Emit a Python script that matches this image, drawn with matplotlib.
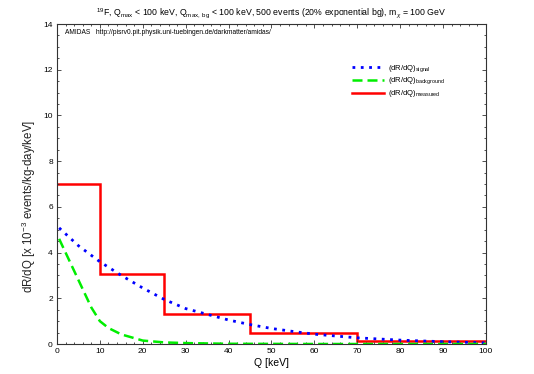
import matplotlib
matplotlib.use("Agg")
import matplotlib.pyplot as plt
from matplotlib.ticker import MultipleLocator

plt.rcParams['font.family'] = ['Liberation Sans', 'DejaVu Sans']
plt.rcParams['mathtext.fontset'] = 'custom'
plt.rcParams['mathtext.rm'] = 'Liberation Sans'
plt.rcParams['mathtext.it'] = 'Liberation Sans:italic'

# measured spectrum (bin edges and heights)
bin_edges = [0, 10, 25, 45, 70, 100]
bin_heights = [7.0, 3.08, 1.33, 0.48, 0.12]

# signal curve
q_sig = [0.5, 5, 10, 15, 20, 25, 30, 35, 40, 45, 50, 55, 60, 65, 70, 80, 90, 100]
r_sig = [5.08, 4.3, 3.6, 3.0, 2.45, 1.95, 1.55, 1.3, 1.05, 0.85, 0.68, 0.55, 0.43, 0.35, 0.27, 0.17, 0.1, 0.05]

# background curve
q_bg = [0.5, 2, 4, 6, 8, 10, 12, 15, 20, 25, 30, 40, 60, 100]
r_bg = [4.6, 4.0, 3.2, 2.4, 1.6, 1.0, 0.7, 0.42, 0.15, 0.07, 0.04, 0.01, 0.0, 0.0]

fig = plt.figure(figsize=(5.34, 3.74), dpi=100)
ax = fig.add_axes([0.1067, 0.0802, 0.8033, 0.8556])

ax.plot(q_sig, r_sig, color='blue', linestyle=(0, (1, 2)), linewidth=2.0,
        label=r'(dR/dQ)$_{\mathrm{signal}}$')
ax.plot(q_bg, r_bg, color='#00ee00', linestyle=(0, (4, 2)), linewidth=1.8,
        label=r'(dR/dQ)$_{\mathrm{background}}$')
ax.stairs(bin_heights, bin_edges, baseline=None, color='red', linewidth=1.8,
          label=r'(dR/dQ)$_{\mathrm{measured}}$')

ax.set_xlim(0, 100)
ax.set_ylim(0, 14)
ax.xaxis.set_major_locator(MultipleLocator(10))
ax.xaxis.set_minor_locator(MultipleLocator(2))
ax.yaxis.set_major_locator(MultipleLocator(2))
ax.yaxis.set_minor_locator(MultipleLocator(0.5))
ax.tick_params(which='both', direction='in', top=True, right=True, labelsize=6, width=0.6,
               colors='#333333', labelcolor='black', pad=3)
ax.tick_params(which='major', length=3)
ax.tick_params(which='minor', length=1.5)
for s in ax.spines.values():
    s.set_linewidth(0.8)
    s.set_color('#333333')

ax.set_xlabel('Q [keV]', fontsize=7.5, labelpad=2)
ax.set_ylabel(r'dR/dQ [x 10$^{-3}$ events/kg-day/keV]', fontsize=8.3, color='#222222')
ax.yaxis.set_label_coords(-0.045, 0.43)
ax.set_title(r'$^{19}$F, Q$_{\mathrm{max}}$ < 100 keV, Q$_{\mathrm{max,\ bg}}$ < 100 keV, 500 events (20% exponential bg), m$_{\chi}$ = 100 GeV',
             fontsize=6.3, pad=6)

ax.text(0.018, 0.985, 'AMIDAS   http://pisrv0.pit.physik.uni-tuebingen.de/darkmatter/amidas/',
        transform=ax.transAxes, fontsize=4.8, va='top', ha='left')

leg = ax.legend(loc='upper left', bbox_to_anchor=(0.672, 0.9), frameon=False, fontsize=5.5,
                handlelength=4.2, handletextpad=0.5, labelspacing=0.25)

fig.savefig('out.png', dpi=100)
